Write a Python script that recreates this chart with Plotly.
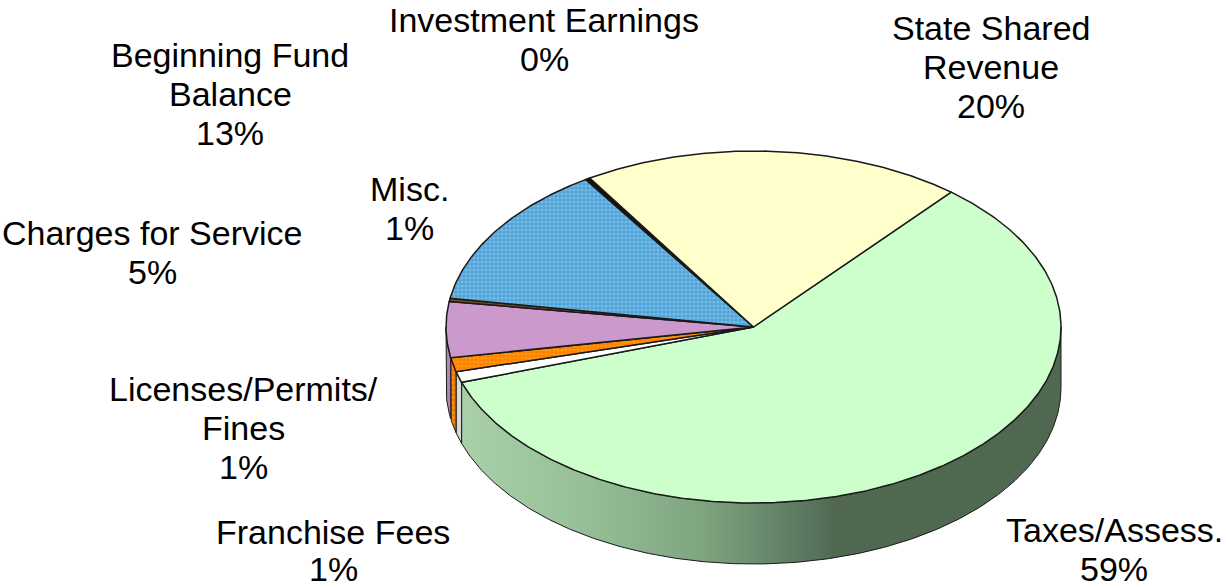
import numpy as np
import plotly.graph_objects as go

# Data, clockwise from the start of the Taxes slice
categories = ["Taxes/Assess.", "Franchise Fees", "Licenses/Permits/Fines", "Charges for Service",
              "Misc.", "Beginning Fund Balance", "Investment Earnings", "State Shared Revenue"]
shares = [58.8, 1.0, 1.3, 5.1, 0.3, 13.2, 0.25, 20.05]
label_lines = [["Taxes/Assess.", "59%"], ["Franchise Fees", "1%"], ["Licenses/Permits/", "Fines", "1%"],
               ["Charges for Service", "5%"], ["Misc.", "1%"], ["Beginning Fund", "Balance", "13%"],
               ["Investment Earnings", "0%"], ["State Shared", "Revenue", "20%"]]

# Geometry and style
CX, CY, RX, RY, DEPTH = 753.5, 327.0, 307.5, 176.0, 61.0
START = 40.0
LINE = "#1a1a1a"
top_fill = ["#CCFFCC", "#FFFFFF", "#FF8000", "#CC99CC", "#7A4A20", "#4FA3D8", "#111111", "#FFFFCC"]
pattern_fg = {2: "#FFB020", 5: "#9FD2F2"}
side_fill = ["#A9D0A9", "#D9D9D9", "#E87400", "#B583B5", "#5A3618", "#3F7DA3", "#111111", "#BFBF99"]
label_pos = [(1114, [530, 569]), (333, [532, 569]), (243, [389, 428, 467]),
             (152, [233, 272]), (409, [189, 228]), (230, [55, 94, 133]),
             (544, [20, 59]), (991, [28, 67, 106])]
FONT = dict(family="Liberation Sans, Arial, sans-serif", size=34, color="#000000")


def pts(a, dz=0.0):
    r = np.radians(a)
    return CX + RX * np.sin(r), CY - RY * np.cos(r) + dz


fig = go.Figure()
edges = START + np.concatenate([[0], np.cumsum(shares)]) * 3.6


def arc(a0, a1, dz=0.0):
    n = max(3, int(abs(a1 - a0) * 2))
    return pts(np.linspace(a0, a1, n), dz)


# Side walls on the front half of the pie, painted before the top
for i in range(len(shares)):
    a0, a1 = max(edges[i], 90.0), min(edges[i + 1], 270.0)
    if a1 <= a0:
        continue
    xt, yt = arc(a0, a1)
    xb, yb = arc(a1, a0, DEPTH)
    kw = dict(fillcolor=side_fill[i])
    if i == 0:
        kw = dict(fillgradient=dict(type="horizontal", colorscale=[
            [0, "#A9D0A9"], [0.18, "#99C29A"], [0.40, "#7FA580"], [0.6, "#56705A"], [0.62, "#506850"], [1, "#506850"]]))
    if i in pattern_fg:
        kw = dict(fillcolor=side_fill[i], fillpattern=dict(shape=".", bgcolor=side_fill[i], fgcolor=pattern_fg[i], size=5, solidity=0.45))
    fig.add_trace(go.Scatter(x=np.r_[xt, xb, xt[0]], y=np.r_[yt, yb, yt[0]], mode="lines", fill="toself",
                             line=dict(color=LINE, width=1), hoverinfo="skip", showlegend=False, **kw))

# Top faces
for i, name in enumerate(categories):
    xa, ya = arc(edges[i], edges[i + 1])
    kw = dict(fillcolor=top_fill[i])
    if i in pattern_fg:
        kw["fillpattern"] = dict(shape=".", bgcolor=top_fill[i], fgcolor=pattern_fg[i],
                                 size=4, solidity=0.5)
    fig.add_trace(go.Scatter(x=np.r_[CX, xa, CX], y=np.r_[CY, ya, CY], mode="lines", fill="toself", name=name,
                             line=dict(color=LINE, width=1.5), hoverinfo="skip", showlegend=False, **kw))

for lines, (x, ys) in zip(label_lines, label_pos):
    for t, y in zip(lines, ys):
        fig.add_annotation(x=x, y=y, text=t, showarrow=False, font=FONT, xanchor="center", yanchor="middle")

fig.update_layout(
    width=1226, height=588, margin=dict(l=0, r=0, t=0, b=0),
    paper_bgcolor="white", plot_bgcolor="white", showlegend=False,
    xaxis=dict(range=[0, 1226], visible=False, fixedrange=True),
    yaxis=dict(range=[588, 0], visible=False, fixedrange=True),
)
fig.write_html("out.html", config=dict(displayModeBar=False),
               post_script="document.body.style.margin='0';document.body.style.overflow='hidden';")
